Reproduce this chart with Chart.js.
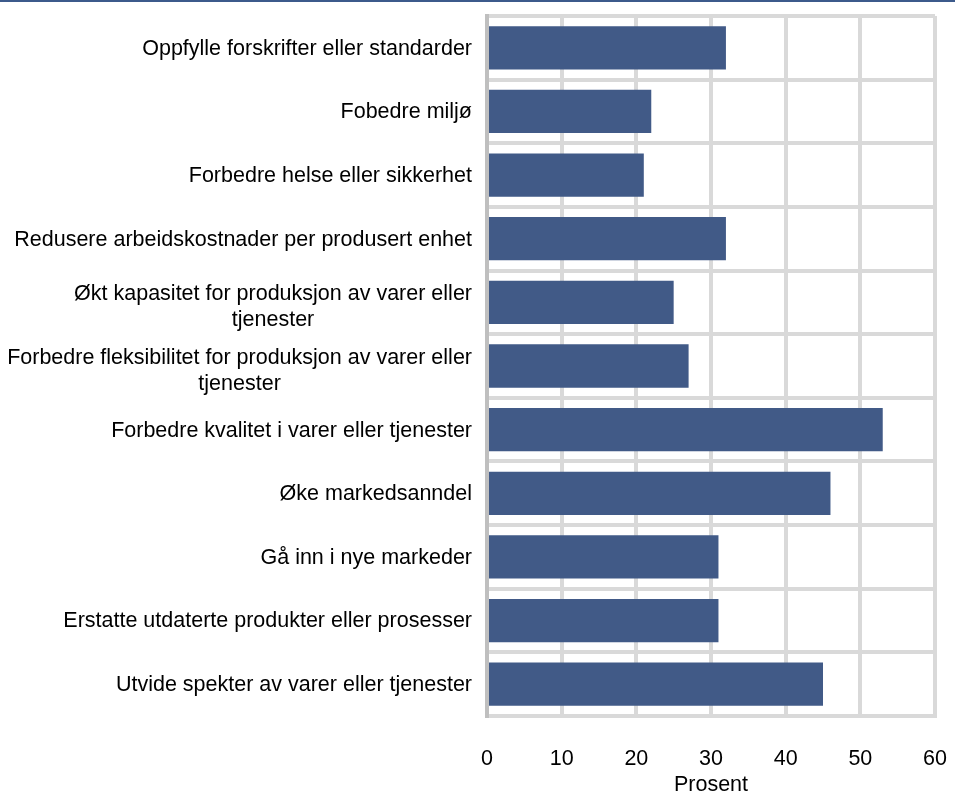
<!DOCTYPE html>
<html>
<head>
<meta charset="utf-8">
<script src="https://cdn.jsdelivr.net/npm/chart.js@4/dist/chart.umd.min.js"></script>
<style>
    html, body { margin: 0; padding: 0; background: #fff; }
    #wrap { width: 955px; height: 794px; position: relative; }
</style>
</head>
<body>
<div id="wrap"><canvas id="chart"></canvas></div>
<script>
// ============================================================
// DATA
// ============================================================
const categories = [
    ['Oppfylle forskrifter eller standarder'],
    ['Fobedre miljø'],
    ['Forbedre helse eller sikkerhet'],
    ['Redusere arbeidskostnader per produsert enhet'],
    ['Økt kapasitet for produksjon av varer eller', 'tjenester'],
    ['Forbedre fleksibilitet for produksjon av varer eller', 'tjenester'],
    ['Forbedre kvalitet i varer eller tjenester'],
    ['Øke markedsanndel'],
    ['Gå inn i nye markeder'],
    ['Erstatte utdaterte produkter eller prosesser'],
    ['Utvide spekter av varer eller tjenester']
];
const percentValues = [32, 22, 21, 32, 25, 27, 53, 46, 31, 31, 45];
const xTicks = [0, 10, 20, 30, 40, 50, 60];
const xTitle = 'Prosent';

// ============================================================
// STYLE
// ============================================================
const BAR_COLOR = '#415a87';
const GRID_COLOR = '#d9d9d9';
const FONT = 'Arial, "Liberation Sans", sans-serif';
const FONT_SIZE = 21.5;

// Top rule + wrapped category labels (lines centered in a right-aligned block)
const decorPlugin = {
    id: 'decor',
    beforeDraw(chart) {
        const ctx = chart.ctx;
        ctx.save();
        ctx.fillStyle = '#3c5a8b';
        ctx.fillRect(0, 0, chart.width, 2);
        ctx.restore();
    },
    afterDraw(chart) {
        const ctx = chart.ctx;
        const yScale = chart.scales.y;
        const right = chart.chartArea.left - 15;
        const lineH = 26;
        ctx.save();
        ctx.font = FONT_SIZE + 'px ' + FONT;
        ctx.fillStyle = '#000';
        ctx.textBaseline = 'middle';
        categories.forEach((lines, i) => {
            const multi = lines.length > 1;
            // wrapped labels sit a bit low in the original
            const yc = yScale.getPixelForTick(i) + (multi ? 5 : 1);
            const w = Math.max(...lines.map(l => ctx.measureText(l).width));
            const top = yc - (lines.length - 1) * lineH / 2;
            ctx.textAlign = multi ? 'center' : 'right';
            lines.forEach((l, k) => {
                const x = multi ? right - w / 2 : right;
                ctx.fillText(l, x, top + k * lineH);
            });
        });
        ctx.restore();
    }
};

new Chart(document.getElementById('chart'), {
    type: 'bar',
    data: {
        labels: categories,
        datasets: [{
            data: percentValues,
            backgroundColor: BAR_COLOR,
            borderWidth: 0,
            barPercentage: 0.68,
            categoryPercentage: 1
        }]
    },
    plugins: [decorPlugin],
    options: {
        indexAxis: 'y',
        responsive: true,
        maintainAspectRatio: false,
        animation: false,
        layout: { padding: { top: 16, right: 0, bottom: 0, left: 0 } },
        plugins: { legend: { display: false }, tooltip: { enabled: false } },
        scales: {
            x: {
                min: 0,
                max: 60,
                afterBuildTicks(scale) {
                    scale.ticks = xTicks.map(v => ({ value: v }));
                },
                grid: { color: GRID_COLOR, lineWidth: 4, drawTicks: false },
                border: { color: GRID_COLOR, width: 4 },
                ticks: { color: '#000', padding: 30, maxRotation: 0, font: { family: FONT, size: FONT_SIZE } },
                title: {
                    display: true,
                    text: xTitle,
                    color: '#000',
                    font: { family: FONT, size: FONT_SIZE, lineHeight: 1 },
                    padding: { top: 0, bottom: -2 }
                },
                afterFit(scale) {
                    scale.height = 78;
                    scale.paddingRight = 20;
                    scale.paddingLeft = 0;
                }
            },
            y: {
                z: 1,
                grid: { color: GRID_COLOR, lineWidth: 4, drawTicks: false, offset: true },
                border: { color: '#bfbfbf', width: 4 },
                ticks: { color: 'rgba(0,0,0,0)', font: { family: FONT, size: 12 } },
                afterFit(scale) { scale.width = 487; }
            }
        }
    }
});
</script>
</body>
</html>
